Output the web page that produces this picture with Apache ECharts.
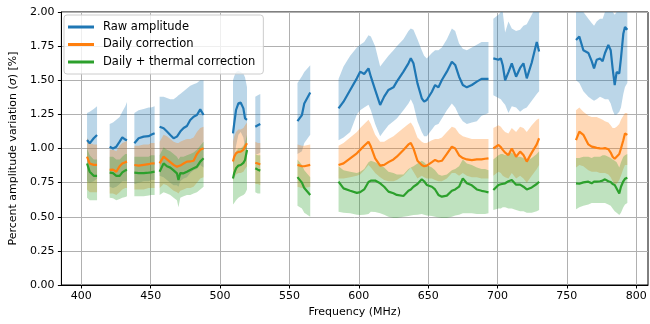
<!DOCTYPE html>
<html>
<head>
<meta charset="utf-8">
<script src="https://cdn.jsdelivr.net/npm/echarts@6/dist/echarts.min.js"></script>
<style>html,body{margin:0;padding:0;background:#fff}#c{width:650px;height:324px}</style>
</head>
<body>
<div id="c"></div>
<script>
const xTicks = [400, 450, 500, 550, 600, 650, 700, 750, 800];
const seriesNames = ['Raw amplitude', 'Daily correction', 'Daily + thermal correction'];

const freq = [
404.1, 406.0, 408.9, 411.3, null,
420.4, 422.8, 425.2, 427.6, 429.5, 431.7, 432.9, null,
438.2, 441.3, 444.9, 448.5, 450.2, 452.8, null,
456.4, 459.3, 461.7, 464.1, 466.5, 468.9, 470.0, 471.3, 473.7, 476.1, 478.5, 480.9, 483.3, 485.7, 488.1, null,
509.3, 510.2, 511.5, 513.2, 514.9, 516.8, 518.0, 519.4, null,
525.4, 527.2, 529.0, null,
555.8, 559.0, 560.7, 565.0, null,
585.4, 589.0, 593.8, 598.6, 601.0, 603.9, 607.0, 608.7, 611.8, 615.4, 618.3, 621.4, 625.0, 627.4, 632.2, 635.8, 637.5, 639.4, 642.3, 645.4, 647.1, 649.0, 652.7, 655.0, 657.4, 659.9, 663.5, 667.1, 669.5, 672.3, 675.0, 677.9, 681.5, 685.1, 688.5, 691.0, 693.5, null,
697.0, 700.7, 702.4, 703.8, 705.5, 707.9, 710.3, 713.4, 716.3, 718.7, 721.1, 724.7, 728.3, 730.0, null,
756.6, 759.0, 761.9, 765.5, 767.9, 769.6, 771.5, 773.9, 775.8, 777.5, 779.9, 781.6, 783.0, 784.5, 785.9, 787.8, 789.0, 790.7, 791.9, 793.6
];

const raw = [
1.062, 1.038, 1.075, 1.099, null,
1.013, 1.0, 1.013, 1.05, 1.082, 1.065, 1.06, null,
1.038, 1.075, 1.087, 1.09, 1.10, 1.111, null,
1.16, 1.148, 1.124, 1.099, 1.075, 1.087, 1.10, 1.124, 1.15, 1.165, 1.209, 1.233, 1.245, 1.287, 1.245, null,
1.111, 1.184, 1.282, 1.331, 1.336, 1.294, 1.221, 1.21, null,
1.16, 1.17, 1.18, null,
1.20, 1.245, 1.33, 1.41, null,
1.294, 1.343, 1.429, 1.514, 1.563, 1.546, 1.587, 1.526, 1.429, 1.319, 1.380, 1.429, 1.448, 1.490, 1.563, 1.624, 1.661, 1.624, 1.477, 1.368, 1.343, 1.355, 1.416, 1.465, 1.448, 1.502, 1.563, 1.636, 1.612, 1.526, 1.465, 1.448, 1.465, 1.490, 1.51, 1.51, 1.51, null,
1.66, 1.65, 1.66, 1.61, 1.50, 1.56, 1.624, 1.526, 1.59, 1.624, 1.514, 1.63, 1.78, 1.71, null,
1.795, 1.82, 1.72, 1.70, 1.64, 1.587, 1.65, 1.66, 1.64, 1.70, 1.758, 1.72, 1.587, 1.465, 1.56, 1.55, 1.66, 1.84, 1.89, 1.87
];
const rawHi = [
1.26, 1.27, 1.29, 1.31, null,
1.18, 1.19, 1.21, 1.23, 1.27, 1.31, 1.34, null,
1.26, 1.28, 1.29, 1.30, 1.30, 1.31, null,
1.38, 1.38, 1.37, 1.36, 1.36, 1.38, 1.39, 1.40, 1.42, 1.44, 1.46, 1.47, 1.48, 1.50, 1.50, null,
1.50, 1.53, 1.56, 1.57, 1.56, 1.55, 1.52, 1.45, null,
1.38, 1.39, 1.40, null,
1.48, 1.53, 1.56, 1.61, null,
1.51, 1.60, 1.68, 1.74, 1.76, 1.78, 1.83, 1.82, 1.75, 1.60, 1.64, 1.68, 1.72, 1.75, 1.80, 1.86, 1.88, 1.87, 1.80, 1.72, 1.68, 1.66, 1.70, 1.72, 1.72, 1.74, 1.80, 1.88, 1.86, 1.77, 1.73, 1.72, 1.74, 1.76, 1.78, 1.78, 1.78, null,
1.95, 1.98, 2.0, 2.0, 1.85, 1.93, 1.88, 1.86, 1.87, 1.90, 1.91, 1.98, 2.05, 2.05, null,
2.02, 2.05, 2.0, 1.95, 1.92, 1.90, 1.93, 1.95, 1.95, 2.0, 2.05, 2.05, 2.0, 1.98, 2.0, 2.02, 2.05, 2.1, 2.1, 2.1
];
const rawLo = [
0.76, 0.75, 0.76, 0.78, null,
0.72, 0.71, 0.72, 0.74, 0.76, 0.76, 0.76, null,
0.74, 0.75, 0.76, 0.76, 0.77, 0.77, null,
0.80, 0.79, 0.77, 0.75, 0.73, 0.73, 0.72, 0.76, 0.78, 0.79, 0.82, 0.84, 0.85, 0.88, 0.86, null,
0.88, 0.93, 1.02, 1.10, 1.12, 1.08, 1.00, 0.98, null,
0.96, 0.96, 0.97, null,
0.96, 0.98, 1.04, 1.10, null,
1.06, 1.08, 1.12, 1.25, 1.28, 1.30, 1.32, 1.28, 1.18, 1.09, 1.13, 1.17, 1.20, 1.22, 1.28, 1.33, 1.36, 1.32, 1.20, 1.12, 1.09, 1.09, 1.14, 1.17, 1.18, 1.22, 1.28, 1.33, 1.30, 1.24, 1.20, 1.18, 1.19, 1.20, 1.24, 1.25, 1.26, null,
1.39, 1.37, 1.36, 1.34, 1.32, 1.26, 1.31, 1.30, 1.27, 1.29, 1.30, 1.35, 1.40, 1.42, null,
1.50, 1.48, 1.42, 1.38, 1.36, 1.35, 1.36, 1.38, 1.37, 1.36, 1.36, 1.33, 1.28, 1.245, 1.25, 1.27, 1.30, 1.40, 1.45, 1.48
];

const daily = [
0.94, 0.89, 0.88, 0.88, null,
0.843, 0.845, 0.83, 0.87, 0.89, 0.90, 0.904, null,
0.879, 0.875, 0.88, 0.885, 0.89, 0.891, null,
0.891, 0.94, 0.92, 0.90, 0.88, 0.867, 0.865, 0.875, 0.89, 0.904, 0.905, 0.91, 0.96, 0.99, 1.001, null,
0.904, 0.94, 0.965, 0.975, 0.977, 0.99, 1.014, 1.038, null,
0.896, 0.89, 0.883, null,
0.88, 0.87, 0.87, 0.88, null,
0.879, 0.891, 0.928, 0.965, 0.99, 1.02, 1.05, 1.014, 0.928, 0.875, 0.88, 0.90, 0.92, 0.94, 0.989, 1.03, 1.04, 1.001, 0.91, 0.879, 0.87, 0.875, 0.90, 0.916, 0.905, 0.91, 0.96, 1.014, 1.0, 0.95, 0.93, 0.92, 0.915, 0.92, 0.92, 0.925, 0.928, null,
1.0, 1.026, 1.01, 0.99, 0.97, 0.952, 1.0, 0.94, 0.977, 0.952, 0.904, 0.97, 1.03, 1.075, null,
1.062, 1.123, 1.10, 1.03, 1.014, 1.01, 1.005, 1.001, 1.0, 1.003, 0.995, 0.97, 0.94, 0.925, 0.92, 0.96, 1.0, 1.06, 1.11, 1.10
];
const dailyHi = [
1.08, 1.04, 1.03, 1.03, null,
0.99, 0.99, 0.98, 1.02, 1.04, 1.05, 1.06, null,
1.02, 1.02, 1.03, 1.03, 1.04, 1.04, null,
1.05, 1.10, 1.09, 1.07, 1.05, 1.04, 1.04, 1.05, 1.06, 1.07, 1.07, 1.08, 1.12, 1.15, 1.16, null,
1.05, 1.09, 1.12, 1.14, 1.14, 1.15, 1.17, 1.19, null,
1.05, 1.04, 1.04, null,
1.03, 1.02, 1.02, 1.03, null,
1.02, 1.04, 1.08, 1.12, 1.15, 1.18, 1.21, 1.18, 1.10, 1.05, 1.05, 1.07, 1.09, 1.11, 1.15, 1.18, 1.19, 1.16, 1.08, 1.05, 1.04, 1.04, 1.06, 1.07, 1.07, 1.08, 1.12, 1.16, 1.15, 1.11, 1.09, 1.08, 1.07, 1.07, 1.07, 1.07, 1.07, null,
1.15, 1.17, 1.16, 1.14, 1.12, 1.11, 1.15, 1.12, 1.16, 1.15, 1.12, 1.17, 1.21, 1.22, null,
1.28, 1.30, 1.27, 1.24, 1.23, 1.23, 1.23, 1.22, 1.21, 1.20, 1.19, 1.17, 1.15, 1.15, 1.16, 1.18, 1.21, 1.24, 1.26, 1.26
];
const dailyLo = [
0.70, 0.68, 0.68, 0.68, null,
0.67, 0.67, 0.66, 0.68, 0.70, 0.71, 0.71, null,
0.70, 0.70, 0.70, 0.71, 0.71, 0.71, null,
0.71, 0.74, 0.73, 0.71, 0.69, 0.68, 0.67, 0.69, 0.70, 0.71, 0.71, 0.72, 0.75, 0.78, 0.79, null,
0.76, 0.79, 0.81, 0.82, 0.82, 0.83, 0.85, 0.87, null,
0.74, 0.74, 0.73, null,
0.72, 0.71, 0.71, 0.72, null,
0.78, 0.78, 0.79, 0.80, 0.81, 0.84, 0.88, 0.86, 0.82, 0.79, 0.77, 0.76, 0.76, 0.77, 0.80, 0.84, 0.86, 0.83, 0.78, 0.80, 0.79, 0.78, 0.78, 0.77, 0.76, 0.76, 0.78, 0.82, 0.82, 0.80, 0.82, 0.80, 0.79, 0.79, 0.78, 0.78, 0.78, null,
0.80, 0.83, 0.82, 0.80, 0.79, 0.78, 0.82, 0.78, 0.80, 0.78, 0.75, 0.80, 0.85, 0.88, null,
0.86, 0.88, 0.87, 0.84, 0.83, 0.83, 0.83, 0.82, 0.82, 0.82, 0.81, 0.79, 0.76, 0.74, 0.74, 0.77, 0.80, 0.85, 0.88, 0.88
];

const thermal = [
0.89, 0.83, 0.80, 0.80, null,
0.823, 0.82, 0.80, 0.80, 0.825, 0.84, 0.843, null,
0.823, 0.82, 0.82, 0.823, 0.825, 0.83, null,
0.83, 0.891, 0.87, 0.86, 0.84, 0.818, 0.77, 0.82, 0.818, 0.83, 0.843, 0.855, 0.867, 0.904, 0.928, null,
0.781, 0.82, 0.855, 0.875, 0.879, 0.895, 0.916, 0.989, null,
0.855, 0.845, 0.838, null,
0.79, 0.75, 0.71, 0.66, null,
0.757, 0.708, 0.691, 0.675, 0.68, 0.70, 0.755, 0.765, 0.765, 0.745, 0.72, 0.684, 0.672, 0.66, 0.652, 0.69, 0.70, 0.72, 0.74, 0.774, 0.76, 0.733, 0.72, 0.70, 0.66, 0.647, 0.655, 0.69, 0.70, 0.72, 0.781, 0.745, 0.73, 0.70, 0.69, 0.685, 0.679, null,
0.696, 0.733, 0.738, 0.742, 0.745, 0.76, 0.769, 0.735, 0.735, 0.72, 0.70, 0.715, 0.74, 0.757, null,
0.745, 0.742, 0.752, 0.757, 0.745, 0.757, 0.757, 0.76, 0.765, 0.774, 0.76, 0.755, 0.74, 0.733, 0.72, 0.671, 0.72, 0.76, 0.778, 0.786
];
const thermalHi = [
1.0, 0.95, 0.92, 0.92, null,
0.94, 0.94, 0.92, 0.92, 0.94, 0.96, 0.96, null,
0.94, 0.94, 0.94, 0.94, 0.95, 0.95, null,
0.95, 1.01, 0.99, 0.98, 0.96, 0.94, 0.92, 0.94, 0.94, 0.95, 0.96, 0.97, 0.99, 1.02, 1.05, null,
0.90, 0.94, 0.98, 1.00, 1.00, 1.02, 1.04, 1.10, null,
0.96, 0.95, 0.95, null,
0.92, 0.88, 0.84, 0.79, null,
0.87, 0.84, 0.83, 0.82, 0.83, 0.85, 0.90, 0.91, 0.90, 0.88, 0.86, 0.83, 0.82, 0.81, 0.81, 0.85, 0.86, 0.87, 0.89, 0.91, 0.90, 0.88, 0.86, 0.84, 0.81, 0.80, 0.81, 0.84, 0.85, 0.87, 0.92, 0.89, 0.88, 0.86, 0.85, 0.85, 0.84, null,
0.92, 0.95, 0.96, 0.96, 0.95, 0.96, 0.97, 0.94, 0.94, 0.93, 0.91, 0.93, 0.96, 0.98, null,
0.93, 0.93, 0.94, 0.94, 0.93, 0.94, 0.94, 0.94, 0.95, 0.95, 0.94, 0.93, 0.92, 0.91, 0.90, 0.86, 0.90, 0.94, 0.95, 0.96
];
const thermalLo = [
0.64, 0.62, 0.62, 0.62, null,
0.64, 0.635, 0.62, 0.63, 0.64, 0.645, 0.65, null,
0.65, 0.65, 0.65, 0.655, 0.66, 0.66, null,
0.66, 0.68, 0.67, 0.66, 0.64, 0.62, 0.57, 0.64, 0.65, 0.66, 0.66, 0.67, 0.68, 0.70, 0.72, null,
0.59, 0.60, 0.62, 0.64, 0.65, 0.66, 0.67, 0.70, null,
0.68, 0.67, 0.67, null,
0.58, 0.56, 0.53, 0.50, null,
0.537, 0.53, 0.525, 0.515, 0.513, 0.515, 0.52, 0.537, 0.535, 0.525, 0.515, 0.50, 0.49, 0.49, 0.50, 0.505, 0.51, 0.513, 0.515, 0.52, 0.515, 0.51, 0.505, 0.50, 0.495, 0.49, 0.49, 0.50, 0.51, 0.515, 0.525, 0.525, 0.525, 0.52, 0.52, 0.52, 0.525, null,
0.55, 0.56, 0.56, 0.57, 0.57, 0.56, 0.56, 0.55, 0.54, 0.54, 0.53, 0.53, 0.54, 0.55, null,
0.555, 0.57, 0.58, 0.59, 0.60, 0.60, 0.60, 0.60, 0.60, 0.60, 0.59, 0.58, 0.56, 0.54, 0.53, 0.513, 0.53, 0.57, 0.59, 0.60
];

const colors = ['#1f77b4', '#ff7f0e', '#2ca02c'];
const bandColors = ['rgba(31,119,180,0.3)', 'rgba(255,127,14,0.3)', 'rgba(44,160,44,0.3)'];

function pairs(ys) {
  return freq.map((f, i) => [f, ys[i]]);
}
// split indices into contiguous segments (separated by null entries)
function segmentsOf() {
  const segs = [];
  let cur = [];
  freq.forEach((f, i) => {
    if (f == null) { if (cur.length) segs.push(cur); cur = []; }
    else cur.push(i);
  });
  if (cur.length) segs.push(cur);
  return segs;
}
const segIdx = segmentsOf();

const groups = [
  { name: seriesNames[0], y: raw, hi: rawHi, lo: rawLo },
  { name: seriesNames[1], y: daily, hi: dailyHi, lo: dailyLo },
  { name: seriesNames[2], y: thermal, hi: thermalHi, lo: thermalLo }
];

const series = [];
groups.forEach((g, k) => {
  series.push({
    type: 'custom', name: 'band' + k, silent: true, z: 1,
    encode: { x: 0, y: 1 },
    data: segIdx.map(s => [freq[s[0]], g.lo[s[0]]]),
    renderItem: function (params, api) {
      const s = segIdx[params.dataIndex];
      const pts = [];
      s.forEach(i => pts.push(api.coord([freq[i], g.hi[i]])));
      for (let j = s.length - 1; j >= 0; j--) { const i = s[j]; pts.push(api.coord([freq[i], g.lo[i]])); }
      const cs = params.coordSys;
      return {
        type: 'polygon', shape: { points: pts }, style: { fill: bandColors[k] },
        clipPath: { type: 'rect', shape: { x: cs.x, y: cs.y, width: cs.width, height: cs.height } }
      };
    }
  });
});
groups.forEach((g, k) => {
  series.push({
    type: 'line', name: g.name, data: pairs(g.y), symbol: 'none', connectNulls: false,
    lineStyle: { color: colors[k], width: 2.2 }, itemStyle: { color: colors[k] }, z: 3
  });
});

const chart = echarts.init(document.getElementById('c'), null, { renderer: 'canvas' });
const font = 'DejaVu Sans';
chart.setOption({
  animation: false,
  textStyle: { fontFamily: font },
  grid: { left: 61, right: 2, top: 12, bottom: 39, show: true, borderColor: '#000', borderWidth: 1, backgroundColor: 'transparent' },
  legend: {
    data: seriesNames, orient: 'vertical', left: 64, top: 15,
    icon: 'rect', itemWidth: 26, itemHeight: 3, itemGap: 3.5,
    padding: [5, 8, 5, 4],
    backgroundColor: 'rgba(255,255,255,0.8)', borderColor: '#cccccc', borderWidth: 1, borderRadius: 3,
    textStyle: { fontFamily: font, fontSize: 11.5, color: '#000', lineHeight: 14, padding: [0, 0, 0, 4] }
  },
  xAxis: {
    type: 'value', min: 385.6, max: 808.5, splitNumber: 8,
    name: 'Frequency (MHz)', nameLocation: 'middle', nameGap: 20,
    nameTextStyle: { fontFamily: font, fontSize: 11, color: '#000' },
    axisLine: { show: true, lineStyle: { color: '#000', width: 1 } },
    axisTick: { show: true, length: 3.5, lineStyle: { color: '#000' }, customValues: xTicks },
    axisLabel: { customValues: xTicks, color: '#000', fontFamily: font, fontSize: 11, margin: 6 },
    splitLine: { show: true, lineStyle: { color: '#b0b0b0', width: 1 } }
  },
  yAxis: {
    type: 'value', min: 0, max: 2, interval: 0.25,
    name: 'Percent amplitude variation ({i|σ}) [%]', nameLocation: 'middle', nameGap: 42,
    nameTextStyle: { fontFamily: font, fontSize: 11, color: '#000', rich: { i: { fontStyle: 'italic', fontFamily: font, fontSize: 11, color: '#000' } } },
    axisLine: { show: true, lineStyle: { color: '#000', width: 1 } },
    axisTick: { show: true, length: 3.5, lineStyle: { color: '#000' } },
    axisLabel: { color: '#000', fontFamily: font, fontSize: 11, margin: 7, formatter: v => v.toFixed(2) },
    splitLine: { show: true, lineStyle: { color: '#b0b0b0', width: 1 } }
  },
  series: series
});
</script>
</body>
</html>
